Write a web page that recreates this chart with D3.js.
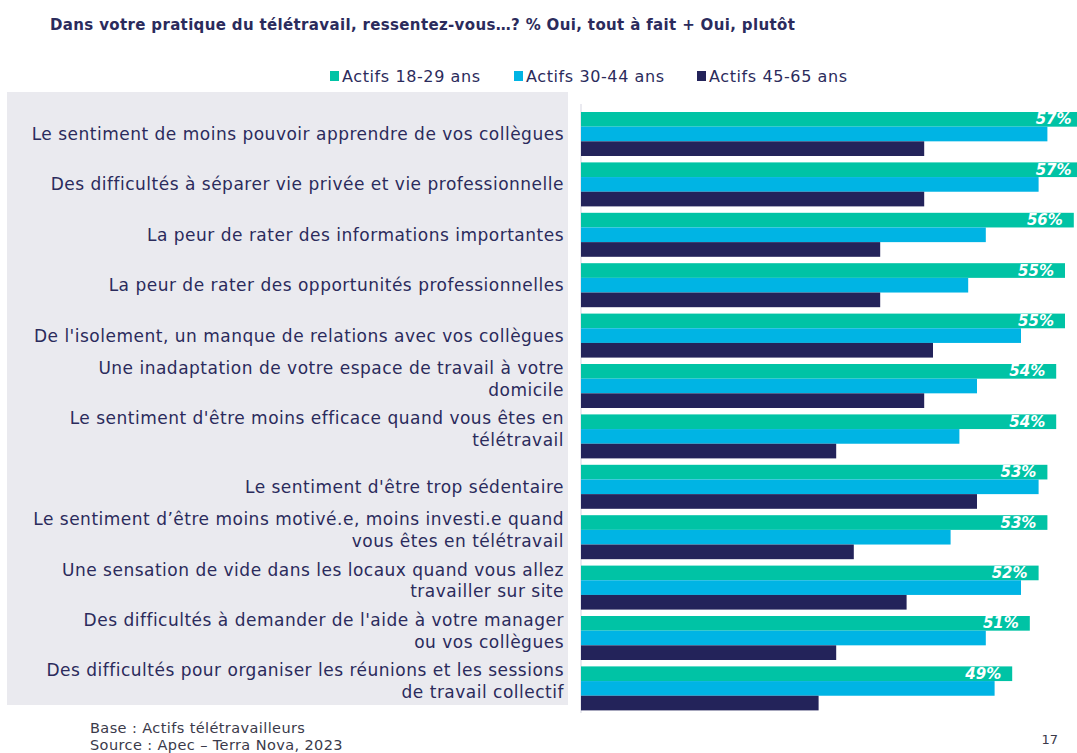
<!DOCTYPE html>
<html>
<head>
<meta charset="utf-8">
<script src="https://cdn.jsdelivr.net/npm/d3@7"></script>
<style>
  body { margin: 0; background: #fff; }
  svg { display: block; }
</style>
</head>
<body>
<div id="chart"></div>
<script>
// data
var categories = [
  ["Le sentiment de moins pouvoir apprendre de vos collègues"],
  ["Des difficultés à séparer vie privée et vie professionnelle"],
  ["La peur de rater des informations importantes"],
  ["La peur de rater des opportunités professionnelles"],
  ["De l'isolement, un manque de relations avec vos collègues"],
  ["Une inadaptation de votre espace de travail à votre", "domicile"],
  ["Le sentiment d'être moins efficace quand vous êtes en", "télétravail"],
  ["Le sentiment d'être trop sédentaire"],
  ["Le sentiment d’être moins motivé.e, moins investi.e quand", "vous êtes en télétravail"],
  ["Une sensation de vide dans les locaux quand vous allez", "travailler sur site"],
  ["Des difficultés à demander de l'aide à votre manager", "ou vos collègues"],
  ["Des difficultés pour organiser les réunions et les sessions", "de travail collectif"]
];
var seriesNames = ["Actifs 18-29 ans", "Actifs 30-44 ans", "Actifs 45-65 ans"];
var actifs1829 = [57, 57, 56, 55, 55, 54, 54, 53, 53, 52, 51, 49];
var actifs3044 = [53, 52, 46, 44, 50, 45, 43, 52, 42, 50, 46, 47];
var actifs4565 = [39, 39, 34, 34, 40, 39, 29, 45, 31, 37, 29, 27];
var colors = ["#00c3a5", "#00b4e4", "#23235a"];

var W = 1077, H = 753;
var textCol = "#2b2b5c";
var font = "'DejaVu Sans', sans-serif";

var svg = d3.select("#chart").append("svg")
  .attr("width", W)
  .attr("height", H);

// title
svg.append("text")
  .attr("x", 50).attr("y", 30)
  .style("font-family", font)
  .style("font-size", "15px")
  .style("font-weight", "bold")
  .style("letter-spacing", "0.35px")
  .attr("fill", textCol)
  .text("Dans votre pratique du télétravail, ressentez-vous…? % Oui, tout à fait + Oui, plutôt");

// legend
var legendX = [330, 514, 697];
var legend = svg.selectAll(".leg")
  .data(seriesNames)
  .enter().append("g")
  .attr("class", "leg")
  .attr("transform", (d, i) => "translate(" + legendX[i] + ",76)");
legend.append("rect")
  .attr("x", 0).attr("y", -5)
  .attr("width", 9).attr("height", 10)
  .attr("fill", (d, i) => colors[i]);
legend.append("text")
  .attr("x", 12).attr("y", 6)
  .style("font-family", font)
  .style("font-size", "16px")
  .style("letter-spacing", "0.6px")
  .attr("fill", textCol)
  .text(d => d);

// grey label panel
svg.append("rect")
  .attr("x", 7).attr("y", 92)
  .attr("width", 561).attr("height", 613)
  .attr("fill", "#eaeaef");

var rows = categories.map((c, i) => ({
  idx: i, lines: c,
  values: [actifs1829[i], actifs3044[i], actifs4565[i]]
}));

var y = d3.scaleBand()
  .domain(d3.range(categories.length))
  .range([112, 710.4])
  .paddingInner(0.127)
  .paddingOuter(0);

var ySub = d3.scaleBand()
  .domain(d3.range(seriesNames.length))
  .range([0, y.bandwidth()]);

var x = d3.scaleLinear()
  .domain([0, 55])
  .range([581, 1065]);

// axis line
svg.append("line")
  .attr("x1", x(0)).attr("x2", x(0))
  .attr("y1", 104).attr("y2", 713)
  .attr("stroke", "#dcdce6").attr("stroke-width", 1.2);

var groups = svg.selectAll(".grp")
  .data(rows)
  .enter().append("g")
  .attr("class", "grp")
  .attr("transform", d => "translate(0," + y(d.idx) + ")");

groups.selectAll("rect")
  .data(d => d.values)
  .enter().append("rect")
  .attr("x", x(0))
  .attr("y", (d, i) => ySub(i))
  .attr("width", d => x(d) - x(0))
  .attr("height", ySub.bandwidth())
  .attr("fill", (d, i) => colors[i]);

// value labels on the green bar
groups.append("text")
  .attr("x", d => x(d.values[0]) - 11)
  .attr("y", ySub(0) + ySub.bandwidth() / 2 + 5)
  .attr("text-anchor", "end")
  .style("font-family", font)
  .style("font-size", "15px")
  .style("font-weight", "bold")
  .style("font-style", "italic")
  .attr("fill", "#fff")
  .text(d => d.values[0] + "%");

// category labels
groups.each(function (d) {
  var g = d3.select(this);
  var ys = d.lines.length === 1 ? [y.bandwidth() / 2 + 6] : [10, 31.5];
  d.lines.forEach((line, k) => {
    g.append("text")
      .attr("x", 564)
      .attr("y", ys[k])
      .attr("text-anchor", "end")
      .style("font-family", font)
      .style("font-size", "17px")
      .style("letter-spacing", "0.5px")
      .attr("fill", textCol)
      .text(line);
  });
});

// footer
var footer = ["Base : Actifs télétravailleurs", "Source : Apec – Terra Nova, 2023"];
svg.selectAll(".foot")
  .data(footer)
  .enter().append("text")
  .attr("class", "foot")
  .attr("x", 90)
  .attr("y", (d, i) => 733 + i * 17)
  .style("font-family", font)
  .style("font-size", "14.5px")
  .style("letter-spacing", "0.4px")
  .attr("fill", "#3a3a4a")
  .text(d => d);
svg.append("text")
  .attr("x", 1058).attr("y", 744)
  .attr("text-anchor", "end")
  .style("font-family", font)
  .style("font-size", "13px")
  .attr("fill", "#3a3a4a")
  .text("17");
</script>
</body>
</html>
